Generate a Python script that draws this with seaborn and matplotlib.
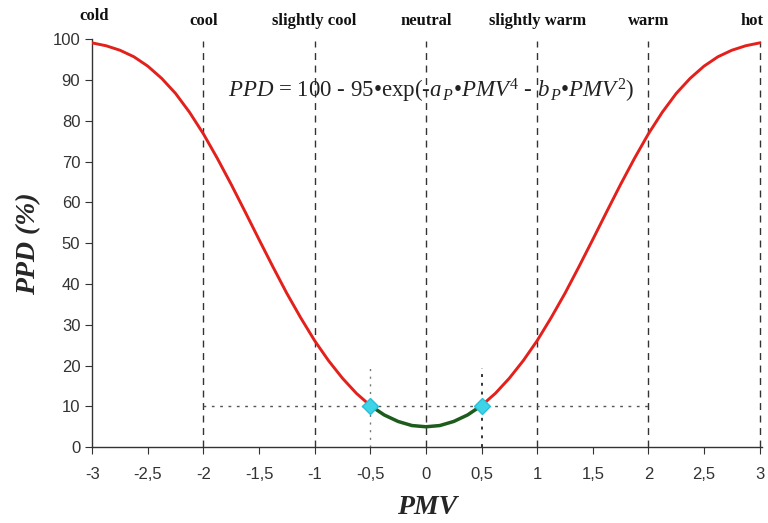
import matplotlib
matplotlib.use("Agg")
import matplotlib.pyplot as plt
import numpy as np
import pandas as pd
import seaborn as sns

# PMV / PPD values
pmv = [-3, -2.875, -2.75, -2.625, -2.5, -2.375, -2.25, -2.125, -2, -1.875,
       -1.75, -1.625, -1.5, -1.375, -1.25, -1.125, -1, -0.875, -0.75, -0.625,
       -0.5, -0.375, -0.25, -0.125, 0, 0.125, 0.25, 0.375, 0.5,
       0.625, 0.75, 0.875, 1, 1.125, 1.25, 1.375, 1.5, 1.625, 1.75,
       1.875, 2, 2.125, 2.25, 2.375, 2.5, 2.625, 2.75, 2.875, 3]
ppd = [99.1, 98.4, 97.3, 95.7, 93.4, 90.4, 86.7, 82.1, 76.8, 70.8,
       64.4, 57.7, 50.9, 44.2, 37.7, 31.7, 26.1, 21.2, 16.9, 13.2,
       10.2, 7.9, 6.3, 5.3, 5.0, 5.3, 6.3, 7.9, 10.2,
       13.2, 16.9, 21.2, 26.1, 31.7, 37.7, 44.2, 50.9, 57.7, 64.4,
       70.8, 76.8, 82.1, 86.7, 90.4, 93.4, 95.7, 97.3, 98.4, 99.1]

sensacoes = ["cold", "cool", "slightly cool", "neutral", "slightly warm", "warm", "hot"]
pos_sensacoes = [-3, -2, -1, 0, 1, 2, 3]
xticks = [-3, -2.5, -2, -1.5, -1, -0.5, 0, 0.5, 1, 1.5, 2, 2.5, 3]
xticklabels = ["-3", "-2,5", "-2", "-1,5", "-1", "-0,5", "0", "0,5", "1", "1,5", "2", "2,5", "3"]
yticks = [0, 10, 20, 30, 40, 50, 60, 70, 80, 90, 100]
limite_pmv = [-0.5, 0.5]
limite_ppd = [10, 10]

dados = pd.DataFrame({"PMV": pmv, "PPD": ppd})

sns.set_style("white")
plt.rcParams["font.family"] = ["Liberation Sans", "DejaVu Sans"]
plt.rcParams["mathtext.fontset"] = "custom"
plt.rcParams["mathtext.rm"] = "Liberation Serif"
plt.rcParams["mathtext.it"] = "Liberation Serif:italic"

fig = plt.figure(figsize=(7.68, 5.23), dpi=100)
ax = fig.add_axes([0.120, 0.145, 0.872, 0.780])

# linhas de referencia
for p in pos_sensacoes[1:]:
    ax.plot([p, p], [0, 99.5], color="#333333", lw=1.0, ls=(0, (5, 4)), zorder=1)
ax.plot([-2, 2], [10, 10], color="#555555", lw=1.0, ls=(0, (2, 4)), zorder=1)
ax.plot([-0.5, -0.5], [0, 19.5], color="#777777", lw=1.0, ls=(0, (1.5, 4)), zorder=1)
ax.plot([0.5, 0.5], [0, 19.5], color="#333333", lw=1.4, ls=(0, (1.5, 3)), zorder=1)

# curva PPD: vermelho fora da faixa de conforto, verde dentro
esq = dados[dados["PMV"] <= -0.5]
meio = dados[(dados["PMV"] >= -0.5) & (dados["PMV"] <= 0.5)]
dir_ = dados[dados["PMV"] >= 0.5]
sns.lineplot(data=esq, x="PMV", y="PPD", color="#e3201b", lw=2.1, ax=ax, zorder=3)
sns.lineplot(data=dir_, x="PMV", y="PPD", color="#e3201b", lw=2.1, ax=ax, zorder=3)
sns.lineplot(data=meio, x="PMV", y="PPD", color="#1d5c1d", lw=2.5, ax=ax, zorder=3)
ax.plot(limite_pmv, limite_ppd, ls="none", marker="D", ms=8, color="#3fd3e8",
        markeredgecolor="#2bbfd6", zorder=4)

ax.set_xlim(-3, 3.02)
ax.set_ylim(0, 100)
ax.set_xticks(xticks)
ax.set_xticklabels(xticklabels)
ax.set_yticks(yticks)
ax.tick_params(axis="both", labelsize=12, colors="#333333", length=5, direction="out", left=True, bottom=True)
ax.tick_params(axis="x", pad=9)
for lado in ["top", "right"]:
    ax.spines[lado].set_visible(False)
for lado in ["left", "bottom"]:
    ax.spines[lado].set_color("#333333")
    ax.spines[lado].set_linewidth(1.0)

serif = ["Liberation Serif", "DejaVu Serif"]
ax.set_xlabel("PMV", family=serif, fontsize=20, fontweight="bold", style="italic", labelpad=10)
ax.set_ylabel("PPD (%)", family=serif, fontsize=20, fontweight="bold", style="italic", labelpad=8)

for p, s in zip(pos_sensacoes, sensacoes):
    yy = 103.8 if s == "cold" else 102.5
    xx = p + 0.02 if s == "cold" else (p - 0.07 if s == "hot" else p)
    ax.text(xx, yy, s, family=serif, fontsize=12, fontweight="bold", ha="center",
            va="bottom", color="#111111", clip_on=False)

ax.text(0.05, 87.3, "$PPD$ = 100 - 95\u2022exp(-$a_{\\,P}$\u2022$PMV^{4}$ - $b_{\\,P}$\u2022$PMV^{2}$)",
        fontsize=16.5, ha="center", va="center", color="#222222", family=serif)

fig.savefig("out.png", dpi=100)
